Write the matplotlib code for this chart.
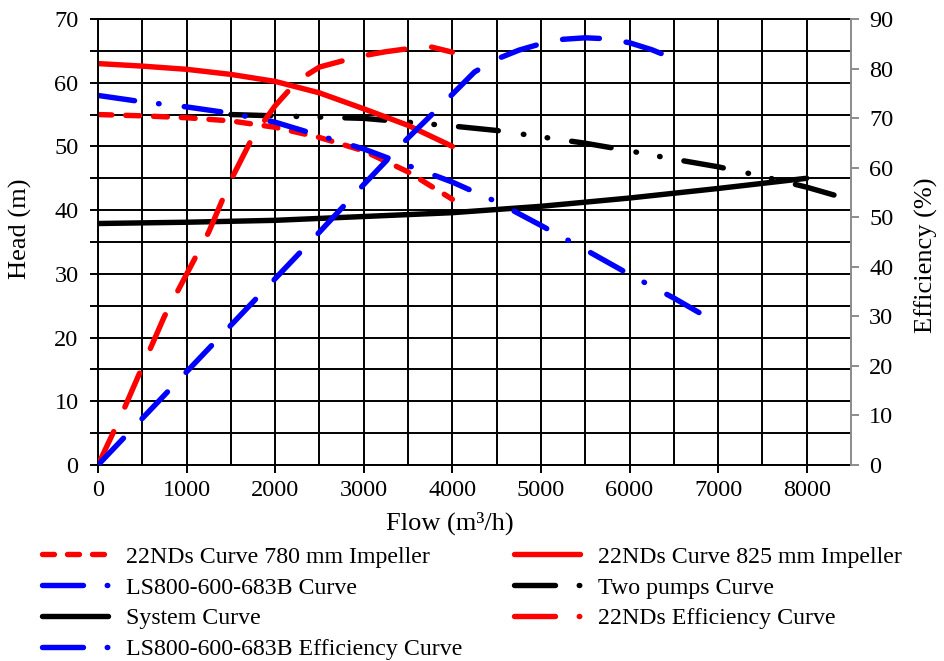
import matplotlib
matplotlib.use('Agg')
import matplotlib.pyplot as plt
from matplotlib.lines import Line2D

plt.rcParams['font.family'] = ['Liberation Serif', 'DejaVu Serif']
plt.rcParams['lines.scale_dashes'] = False

# pump head curves (m) vs flow (m3/h)
q_780 = [0, 500, 1000, 1500, 2000, 2500, 3000, 3500, 4000]
h_780 = [55, 54.8, 54.5, 54, 53, 51.4, 49.3, 46, 41.7]

q_825 = [0, 500, 1000, 1500, 2000, 2500, 3000, 3500, 4000]
h_825 = [63, 62.6, 62.1, 61.3, 60.2, 58.4, 55.9, 53.3, 50]

q_ls = [0, 500, 1000, 1500, 2000, 2500, 3000, 3500, 4000, 4500, 5000, 5500, 6000, 6500, 6950]
h_ls = [58, 57, 56.2, 55.2, 53.8, 51.7, 49.6, 47, 44.4, 41.3, 37.6, 33.8, 29.9, 26.2, 22.6]

q_two = [1500, 2000, 2500, 3000, 3500, 4000, 4500, 5000, 5500, 6000, 6500, 7000, 7500, 8000, 8400]
h_two = [55, 54.8, 54.6, 54.4, 53.8, 53.2, 52.5, 51.5, 50.5, 49.3, 48, 46.8, 45.3, 43.6, 42]

q_sys = [0, 1000, 2000, 3000, 4000, 5000, 6000, 7000, 8000]
h_sys = [37.9, 38.1, 38.4, 39, 39.6, 40.6, 41.9, 43.4, 45]

# efficiency curves (%)
q_eff_nd = [0, 250, 500, 750, 1000, 1250, 1500, 1750, 2000, 2250, 2500, 2750, 3000, 3250, 3500, 3750, 4000]
e_nd = [0, 9.5, 19.8, 30, 38.5, 47, 57.5, 66.3, 72.5, 77.5, 80.3, 81.5, 82.6, 83.4, 84, 84.4, 83.3]

q_eff_ls = [0, 500, 1000, 1500, 2000, 2500, 3000, 3500, 4000, 4250, 4500, 4750, 5000, 5250, 5500, 5750, 6000, 6250, 6500]
e_ls = [0, 9.4, 18.8, 28.2, 37.6, 47, 56.6, 66, 74.8, 79.3, 81.9, 83.7, 85, 85.9, 86.2, 86, 85.2, 83.8, 82]

labels = ['22NDs Curve 780 mm Impeller', 'LS800-600-683B Curve', 'System Curve',
          'LS800-600-683B Efficiency Curve', '22NDs Curve 825 mm Impeller',
          'Two pumps Curve', '22NDs Efficiency Curve']

lw = 3.9
cap = dict(dash_capstyle='round', solid_capstyle='round')
ls_short = (0, (10, 10))
ls_dashdot = (0, (26.6, 17.4, 0.4, 18.2))
ls_dash2dot = (0, (28.8, 18.2, 0.4, 16.9, 0.4, 17.4))
ls_long = (0, (26.6, 19.4))

fig = plt.figure(figsize=(9.44, 6.61), dpi=100)
ax = fig.add_subplot(111)
fig.subplots_adjust(left=0.1038, right=0.9015, top=0.9713, bottom=0.2965)
ax2 = ax.twinx()

ax.set_xlim(0, 8500)
ax.set_ylim(0, 70)
ax2.set_ylim(0, 90)

ax.set_xticks(range(0, 8001, 1000))
ax.set_xticks(range(500, 8001, 1000), minor=True)
ax.set_yticks(range(0, 71, 10))
ax.set_yticks(range(5, 70, 10), minor=True)
ax2.set_yticks(range(0, 91, 10))

ax.set_axisbelow(True)
ax.grid(True, which='both', color='black', lw=1.4)
ax.tick_params(axis='x', which='major', direction='out', length=6, width=1.4, labelsize=17.5, pad=5)
ax.tick_params(axis='x', which='minor', length=0)
ax.tick_params(axis='y', which='both', direction='out', length=6, width=1.4, labelsize=17.5, pad=8)
ax2.tick_params(axis='y', direction='out', length=6, width=1.4, color='#8c8c8c', labelsize=17.5, pad=7)

for s in ['left', 'bottom', 'top']:
    ax.spines[s].set_linewidth(1.4)
    ax.spines[s].set_color('black')
ax.spines['right'].set_visible(False)
for s in ['left', 'bottom', 'top']:
    ax2.spines[s].set_visible(False)
ax2.spines['right'].set_color('#8c8c8c')
ax2.spines['right'].set_linewidth(1.4)

ax.plot(q_sys, h_sys, color='black', lw=lw, **cap)
ax.plot(q_two, h_two, color='black', lw=lw, ls=ls_dash2dot, **cap)
ax.plot(q_780, h_780, color='red', lw=lw, ls=ls_short, **cap)
ax.plot(q_825, h_825, color='red', lw=lw, **cap)
ax.plot(q_ls, h_ls, color='blue', lw=lw, ls=ls_dashdot, **cap)
ax2.plot(q_eff_nd, e_nd, color='red', lw=lw, ls=ls_long, **cap)
ax2.plot(q_eff_ls, e_ls, color='blue', lw=lw, ls=ls_long, **cap)

ax.set_xlabel('Flow (m³/h)', fontsize=19)
ax.set_ylabel('Head (m)', fontsize=19)
ax2.set_ylabel('Efficiency (%)', fontsize=19)
ax.xaxis.set_label_coords(0.4675, -0.105)
ax.yaxis.set_label_coords(-0.087, 0.53)
ax2.yaxis.set_label_coords(1.085, 0.47)

# legend samples
ls_leg = (0, (29.5, 17.1, 0.4, 17.1))
handles = [
    Line2D([], [], color='red', lw=lw, ls=(0, (8.6, 9.4)), **cap),
    Line2D([], [], color='blue', lw=lw, ls=ls_leg, **cap),
    Line2D([], [], color='black', lw=lw, **cap),
    Line2D([], [], color='blue', lw=lw, ls=ls_leg, **cap),
    Line2D([], [], color='red', lw=lw, **cap),
    Line2D([], [], color='black', lw=lw, ls=ls_leg, **cap),
    Line2D([], [], color='red', lw=lw, ls=ls_leg, **cap),
]
fig.legend(handles, labels, ncol=2, loc='upper left', bbox_to_anchor=(0.0445, 0.174),
           frameon=False, fontsize=17.2, handlelength=2.75, handletextpad=0.75,
           columnspacing=2.18, labelspacing=0.38, borderpad=0, borderaxespad=0)

fig.savefig('out.png', dpi=100)
